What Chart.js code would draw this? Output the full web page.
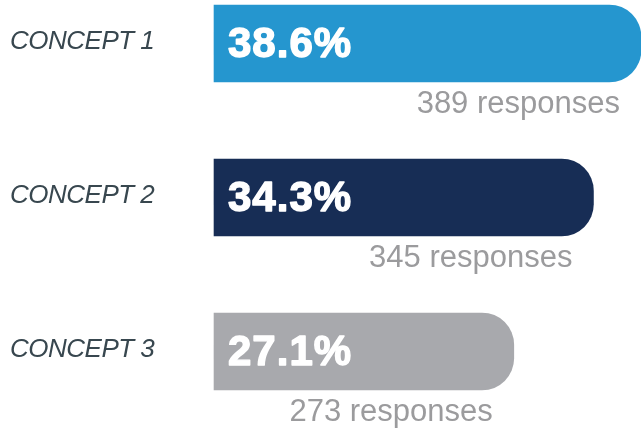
<!DOCTYPE html>
<html>
<head>
<meta charset="utf-8">
<script src="https://cdn.jsdelivr.net/npm/chart.js@4"></script>
<style>
  html, body { margin: 0; padding: 0; background: #ffffff; }
  #wrap { width: 641px; height: 430px; }
</style>
</head>
<body>
<div id="wrap"><canvas id="conceptChart" width="641" height="430"></canvas></div>
<script>
// Chart data
const concepts = ['CONCEPT 1', 'CONCEPT 2', 'CONCEPT 3'];
const shares = [38.6, 34.3, 27.1];
const responses = [389, 345, 273];
const barColors = ['#2596cf', '#172d55', '#a8a9ad'];

// Draws the concept names, percentages and response counts
const labelPlugin = {
    id: 'labelPlugin',
    afterDatasetsDraw(chart) {
        const ctx = chart.ctx;
        const meta = chart.getDatasetMeta(0);
        ctx.save();
        meta.data.forEach((bar, i) => {
            const props = bar.getProps(['x', 'y', 'base', 'height'], true);
            const bottom = props.y + props.height / 2;

            // concept name on the left
            ctx.font = 'italic 26px "Liberation Sans", Arial, sans-serif';
            ctx.fillStyle = '#38474f';
            ctx.textAlign = 'left';
            ctx.textBaseline = 'alphabetic';
            ctx.letterSpacing = '-0.5px';
            ctx.fillText(concepts[i], 10, props.y + 5);

            // percentage inside the bar (stroked a bit to look heavier)
            ctx.font = 'bold 42px "Liberation Sans", Arial, sans-serif';
            ctx.fillStyle = '#ffffff';
            ctx.strokeStyle = '#ffffff';
            ctx.lineWidth = 1.4;
            ctx.lineJoin = 'round';
            ctx.letterSpacing = '1px';
            const pct = shares[i].toFixed(1) + '%';
            ctx.fillText(pct, props.base + 14, props.y + 13.5);
            ctx.strokeText(pct, props.base + 14, props.y + 13.5);

            // response count under the bar end
            ctx.font = '31px "Liberation Sans", Arial, sans-serif';
            ctx.fillStyle = '#9b9b9d';
            ctx.textAlign = 'right';
            ctx.letterSpacing = '0px';
            ctx.fillText(responses[i] + ' responses', props.x - 21, bottom + 31);
        });
        ctx.restore();
    }
};

const chart = new Chart(document.getElementById('conceptChart'), {
    type: 'bar',
    data: {
        labels: concepts,
        datasets: [{
            data: shares,
            backgroundColor: barColors,
            borderWidth: 0,
            borderSkipped: false,
            borderRadius: { topLeft: 0, bottomLeft: 0, topRight: 32, bottomRight: 32 },
            barThickness: 77,
            clip: false
        }]
    },
    options: {
        indexAxis: 'y',
        responsive: false,
        animation: false,
        layout: {
            padding: { top: 43.5, bottom: 78.5, left: 214, right: 0 }
        },
        scales: {
            x: { display: false, min: 0, max: 38.6 },
            y: { display: false, offset: false }
        },
        plugins: {
            legend: { display: false },
            tooltip: { enabled: false }
        }
    },
    plugins: [labelPlugin]
});
</script>
</body>
</html>
